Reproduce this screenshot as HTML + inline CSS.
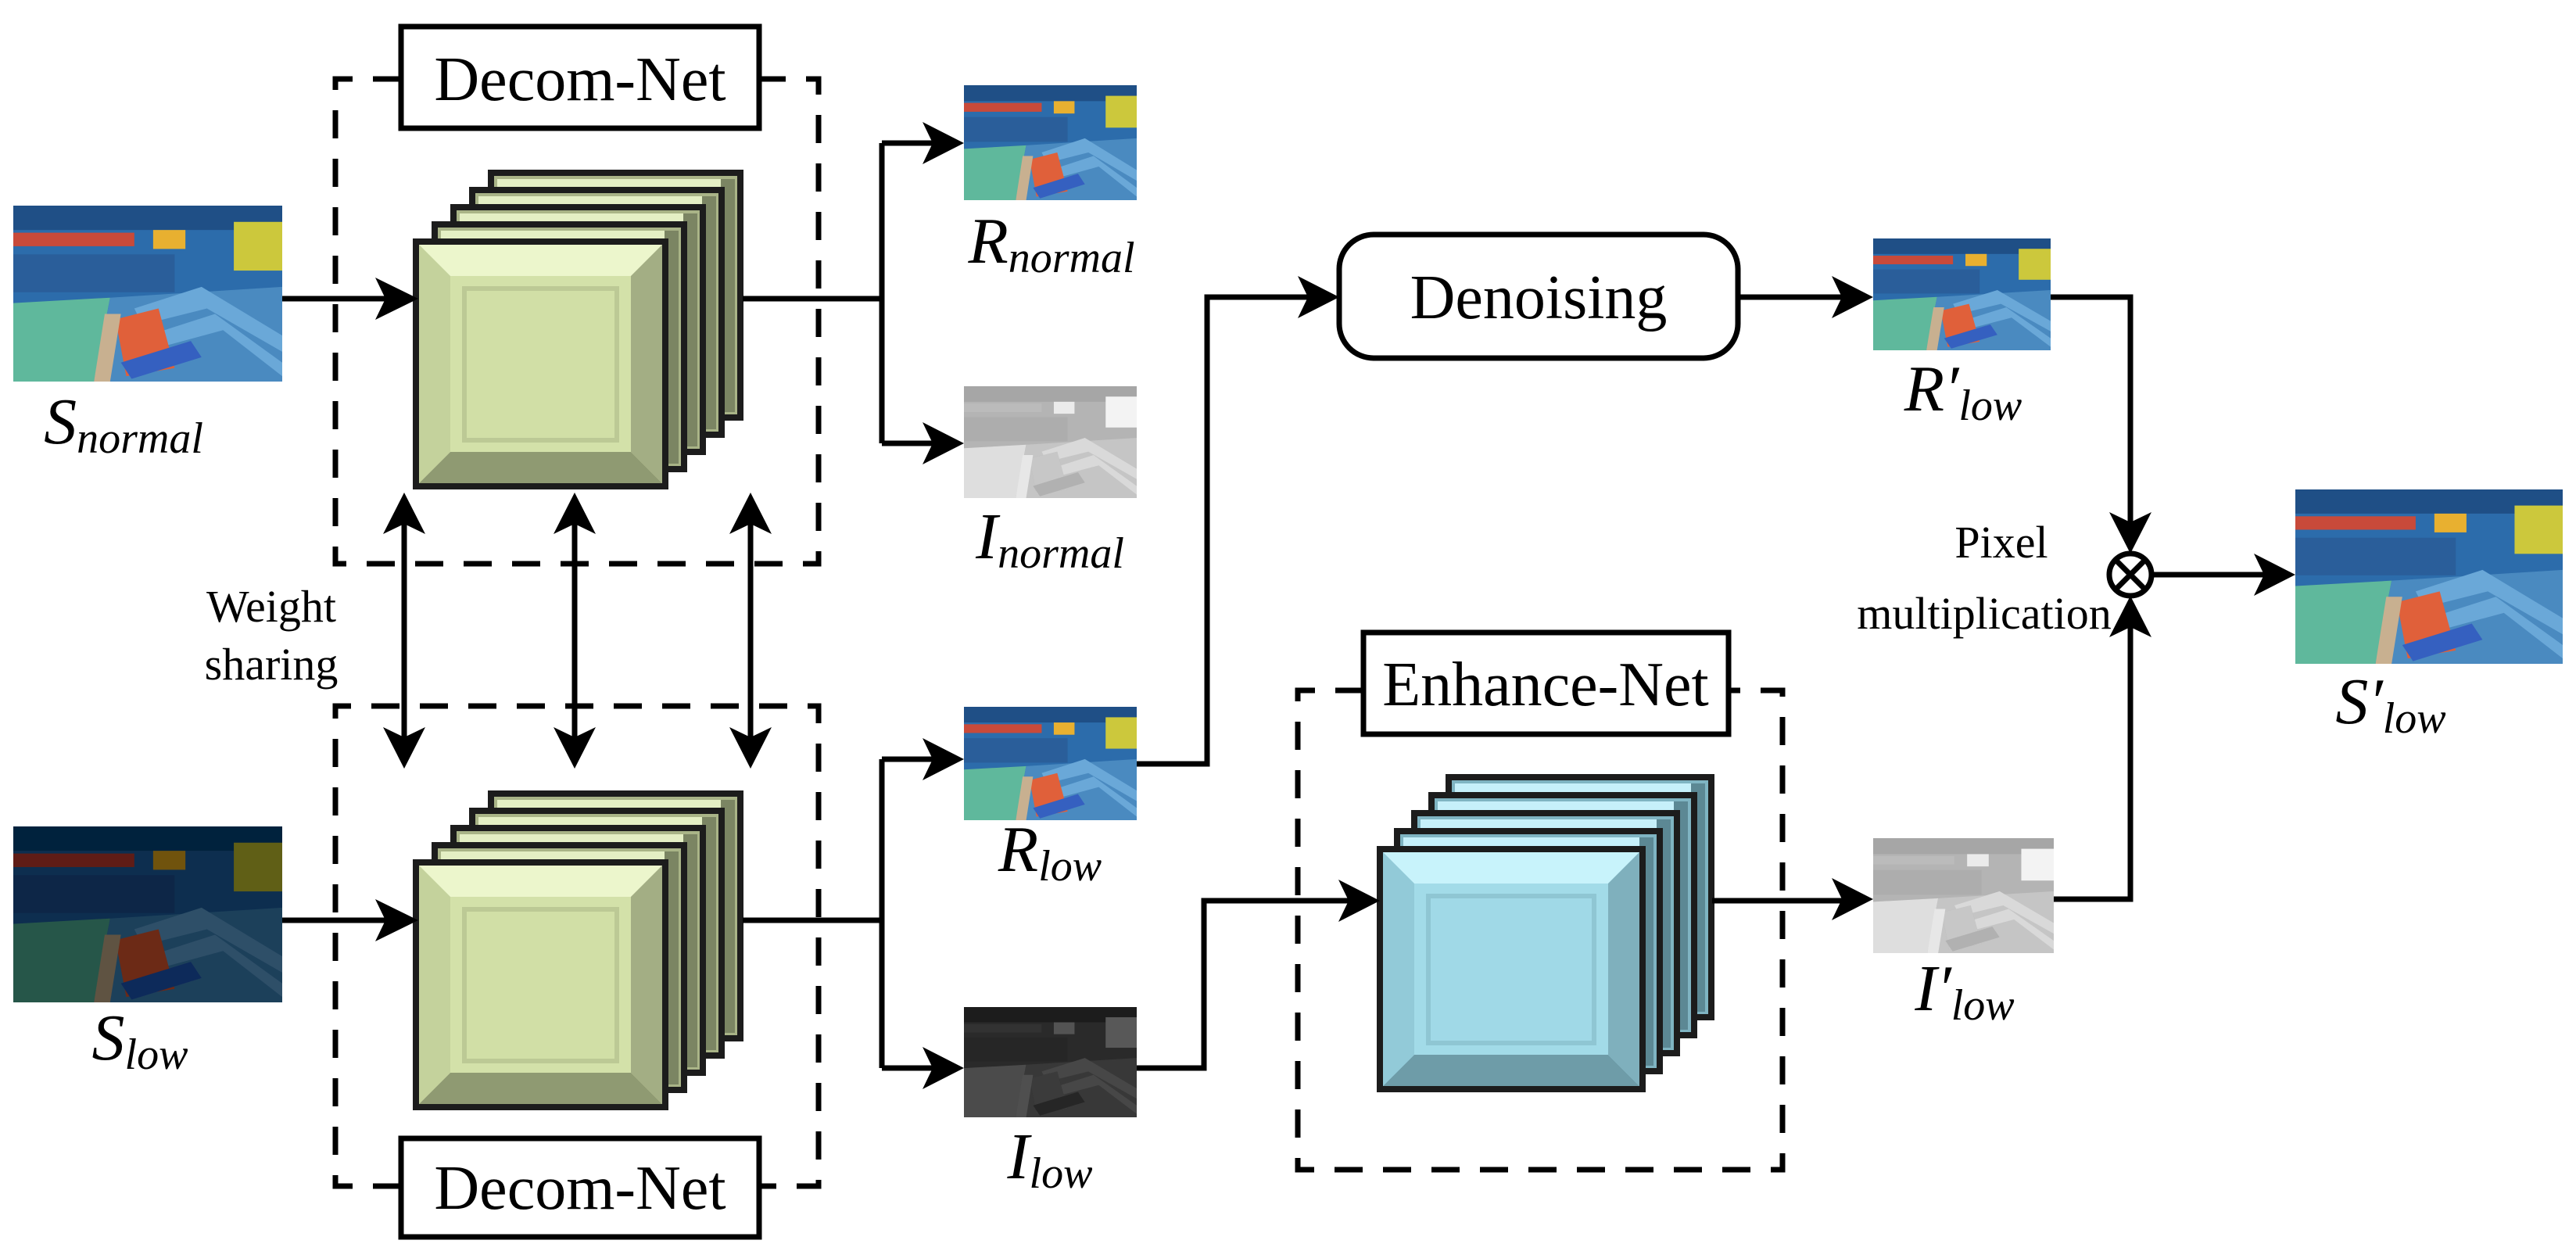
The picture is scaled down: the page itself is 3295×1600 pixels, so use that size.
<!DOCTYPE html>
<html><head><meta charset="utf-8"><style>
html,body{margin:0;padding:0;background:#fff;}
svg{display:block;}
</style></head><body>
<svg width="3295" height="1600" viewBox="0 0 3295 1600" xmlns="http://www.w3.org/2000/svg" font-family="'Liberation Serif', serif">
<defs>
<filter id="gray"><feColorMatrix type="saturate" values="0"/><feComponentTransfer><feFuncR type="linear" slope="1.1" intercept="0.3"/><feFuncG type="linear" slope="1.1" intercept="0.3"/><feFuncB type="linear" slope="1.1" intercept="0.3"/></feComponentTransfer></filter>
<filter id="dark"><feComponentTransfer><feFuncR type="linear" slope="0.2"/><feFuncG type="linear" slope="0.2"/><feFuncB type="linear" slope="0.2"/></feComponentTransfer></filter>
<filter id="darkgray"><feColorMatrix type="saturate" values="0"/><feComponentTransfer><feFuncR type="linear" slope="0.18"/><feFuncG type="linear" slope="0.18"/><feFuncB type="linear" slope="0.18"/></feComponentTransfer></filter>
<g id="pic">
<rect x="0" y="0" width="100" height="65" fill="#2c6cab"/>
<rect x="0" y="0" width="100" height="9" fill="#1f4f86"/>
<rect x="0" y="10" width="45" height="5" fill="#c84a3a"/>
<rect x="52" y="9" width="12" height="7" fill="#e8b030"/>
<rect x="82" y="6" width="18" height="18" fill="#ccc83c"/>
<rect x="0" y="18" width="60" height="14" fill="#2a5e9a"/>
<polygon points="0,36 36,34 30,65 0,65" fill="#5fb89c"/>
<polygon points="36,34 100,30 100,65 30,65" fill="#4a8ac0"/>
<polygon points="45,38 70,30 100,48 100,54 72,38 48,44" fill="#6aa8d8"/>
<polygon points="50,48 75,40 100,58 100,63 78,46 52,53" fill="#6aa8d8"/>
<polygon points="38,42 54,38 60,60 42,63" fill="#e0603a"/>
<polygon points="40,58 66,50 70,56 44,64" fill="#3560c0"/>
<polygon points="34,40 40,40 36,65 30,65" fill="#c8b090"/>
</g>
<g id="gback">
<rect x="0" y="0" width="319" height="313" fill="#a9b487" stroke="#1c1c1c" stroke-width="8"/>
<rect x="8" y="8" width="290" height="16" fill="#e4efc4"/>
<rect x="294" y="8" width="18" height="298" fill="#7b8563"/>
</g>
<g id="gfront">
<rect x="0" y="0" width="319" height="313" fill="#d3e1a9" stroke="#1c1c1c" stroke-width="8"/>
<polygon points="4,4 315,4 275,44 44,44" fill="#ecf6cc"/>
<polygon points="4,309 315,309 275,269 44,269" fill="#8f9a72"/>
<polygon points="4,4 44,44 44,269 4,309" fill="#c4d29c"/>
<polygon points="315,4 275,44 275,269 315,309" fill="#a3ae84"/>
<rect x="62" y="60" width="195" height="194" fill="#d1dfa6" stroke="#bcc995" stroke-width="6"/>
</g>
<g id="bback">
<rect x="0" y="0" width="336" height="307" fill="#7fb4c2" stroke="#1c1c1c" stroke-width="8"/>
<rect x="8" y="8" width="306" height="16" fill="#c6f0fa"/>
<rect x="310" y="8" width="18" height="292" fill="#5c8894"/>
</g>
<g id="bfront">
<rect x="0" y="0" width="336" height="307" fill="#a2dbe8" stroke="#1c1c1c" stroke-width="8"/>
<polygon points="4,4 332,4 292,44 44,44" fill="#c8f3fb"/>
<polygon points="4,303 332,303 292,263 44,263" fill="#6e9ca8"/>
<polygon points="4,4 44,44 44,263 4,303" fill="#92cad8"/>
<polygon points="332,4 292,44 292,263 332,303" fill="#7fb0bd"/>
<rect x="62" y="60" width="212" height="188" fill="#a0d9e7" stroke="#8fc6d3" stroke-width="6"/>
</g>
</defs>

<g stroke="#000" stroke-width="7" fill="none">
<g stroke-dasharray="36,26">
<path d="M513 101 H429 V721 H1047 V101 H971"/>
<path d="M513 1517 H429 V903 H1047 V1517 H971"/>
<path d="M1744 883 H1660 V1496 H2280 V883 H2211"/>
</g>
<rect x="513" y="34" width="458" height="130"/>
<rect x="513" y="1456" width="458" height="126"/>
<rect x="1744" y="809" width="467" height="130"/>
<rect x="1713" y="300" width="510" height="158" rx="44"/>
</g>

<use href="#gback" x="628" y="221"/>
<use href="#gback" x="604" y="243"/>
<use href="#gback" x="580" y="265"/>
<use href="#gback" x="556" y="287"/>
<use href="#gfront" x="532" y="309"/>

<use href="#gback" x="628" y="1015"/>
<use href="#gback" x="604" y="1037"/>
<use href="#gback" x="580" y="1059"/>
<use href="#gback" x="556" y="1081"/>
<use href="#gfront" x="532" y="1103"/>

<use href="#bback" x="1853" y="994"/>
<use href="#bback" x="1831" y="1017"/>
<use href="#bback" x="1809" y="1040"/>
<use href="#bback" x="1787" y="1063"/>
<use href="#bfront" x="1765" y="1086"/>

<svg x="17" y="263" width="344" height="225" viewBox="0 0 100 65" preserveAspectRatio="none"><use href="#pic"/></svg>
<svg x="17" y="1057" width="344" height="225" viewBox="0 0 100 65" preserveAspectRatio="none"><use href="#pic" filter="url(#dark)"/></svg>
<svg x="1233" y="109" width="221" height="147" viewBox="0 0 100 65" preserveAspectRatio="none"><use href="#pic"/></svg>
<svg x="1233" y="494" width="221" height="143" viewBox="0 0 100 65" preserveAspectRatio="none"><use href="#pic" filter="url(#gray)"/></svg>
<svg x="1233" y="904" width="221" height="145" viewBox="0 0 100 65" preserveAspectRatio="none"><use href="#pic"/></svg>
<svg x="1233" y="1288" width="221" height="141" viewBox="0 0 100 65" preserveAspectRatio="none"><use href="#pic" filter="url(#darkgray)"/></svg>
<svg x="2396" y="305" width="227" height="143" viewBox="0 0 100 65" preserveAspectRatio="none"><use href="#pic"/></svg>
<svg x="2396" y="1072" width="231" height="147" viewBox="0 0 100 65" preserveAspectRatio="none"><use href="#pic" filter="url(#gray)"/></svg>
<svg x="2936" y="626" width="342" height="223" viewBox="0 0 100 65" preserveAspectRatio="none"><use href="#pic"/></svg>

<g stroke="#000" stroke-width="7" fill="none">
<path d="M361 382 H500"/>
<path d="M361 1177 H500"/>
<path d="M950 382 H1128 M1128 183 V567 M1128 183 H1195 M1128 567 H1195"/>
<path d="M950 1177 H1128 M1128 971 V1366 M1128 971 H1195 M1128 1366 H1195"/>
<path d="M517 668 V945 M735 668 V945 M960 668 V945"/>
<path d="M1454 977 H1544 V380 H1680"/>
<path d="M2223 380 H2360"/>
<path d="M1454 1366 H1540 V1152 H1730"/>
<path d="M2190 1152 H2360"/>
<path d="M2623 380 H2725 V676"/>
<path d="M2627 1150 H2725 V796"/>
<path d="M2752 735 H2900"/>
<circle cx="2725" cy="735" r="27"/>
<path d="M2706 716 L2744 754 M2744 716 L2706 754"/>
</g>
<g fill="#000">
<polygon points="535,382 480,355 493,382 480,409"/>
<polygon points="535,1177 480,1150 493,1177 480,1204"/>
<polygon points="1233,183 1180,156 1193,183 1180,210"/>
<polygon points="1233,567 1180,540 1193,567 1180,594"/>
<polygon points="1233,971 1180,944 1193,971 1180,998"/>
<polygon points="1233,1366 1180,1339 1193,1366 1180,1393"/>
<polygon points="1713,380 1660,353 1673,380 1660,407"/>
<polygon points="1765,1152 1712,1125 1725,1152 1712,1179"/>
<polygon points="2396,380 2343,353 2356,380 2343,407"/>
<polygon points="2396,1150 2343,1123 2356,1150 2343,1177"/>
<polygon points="2936,735 2883,708 2896,735 2883,762"/>
<polygon points="2725,708 2698,655 2725,668 2752,655"/>
<polygon points="2725,762 2698,815 2725,802 2752,815"/>
<polygon points="517,630 490,683 517,670 544,683"/>
<polygon points="517,983 490,930 517,943 544,930"/>
<polygon points="735,630 708,683 735,670 762,683"/>
<polygon points="735,983 708,930 735,943 762,930"/>
<polygon points="960,630 933,683 960,670 987,683"/>
<polygon points="960,983 933,930 960,943 987,930"/>
</g>

<g font-size="80" text-anchor="middle" font-family="'Liberation Serif', serif" fill="#000">
<text x="742" y="128">Decom-Net</text>
<text x="742" y="1546">Decom-Net</text>
<text x="1977" y="902">Enhance-Net</text>
<text x="1968" y="407">Denoising</text>
</g>
<g font-size="58" text-anchor="middle" font-family="'Liberation Serif', serif" fill="#000">
<text x="347" y="795">Weight</text>
<text x="347" y="869">sharing</text>
<text x="2560" y="713">Pixel</text>
<text x="2538" y="804">multiplication</text>
</g>
<g font-style="italic" font-size="84" text-anchor="middle" font-family="'Liberation Serif', serif" fill="#000">
<text x="158" y="567">S<tspan font-size="56" dy="12">normal</tspan></text>
<text x="179" y="1355">S<tspan font-size="56" dy="12">low</tspan></text>
<text x="1345" y="336">R<tspan font-size="56" dy="12">normal</tspan></text>
<text x="1343" y="714">I<tspan font-size="56" dy="12">normal</tspan></text>
<text x="1343" y="1114">R<tspan font-size="56" dy="12">low</tspan></text>
<text x="1343" y="1507">I<tspan font-size="56" dy="12">low</tspan></text>
<text x="2511" y="525">R′<tspan font-size="56" dy="12">low</tspan></text>
<text x="2513" y="1292">I′<tspan font-size="56" dy="12">low</tspan></text>
<text x="3058" y="925">S′<tspan font-size="56" dy="12">low</tspan></text>
</g>
</svg>
</body></html>
